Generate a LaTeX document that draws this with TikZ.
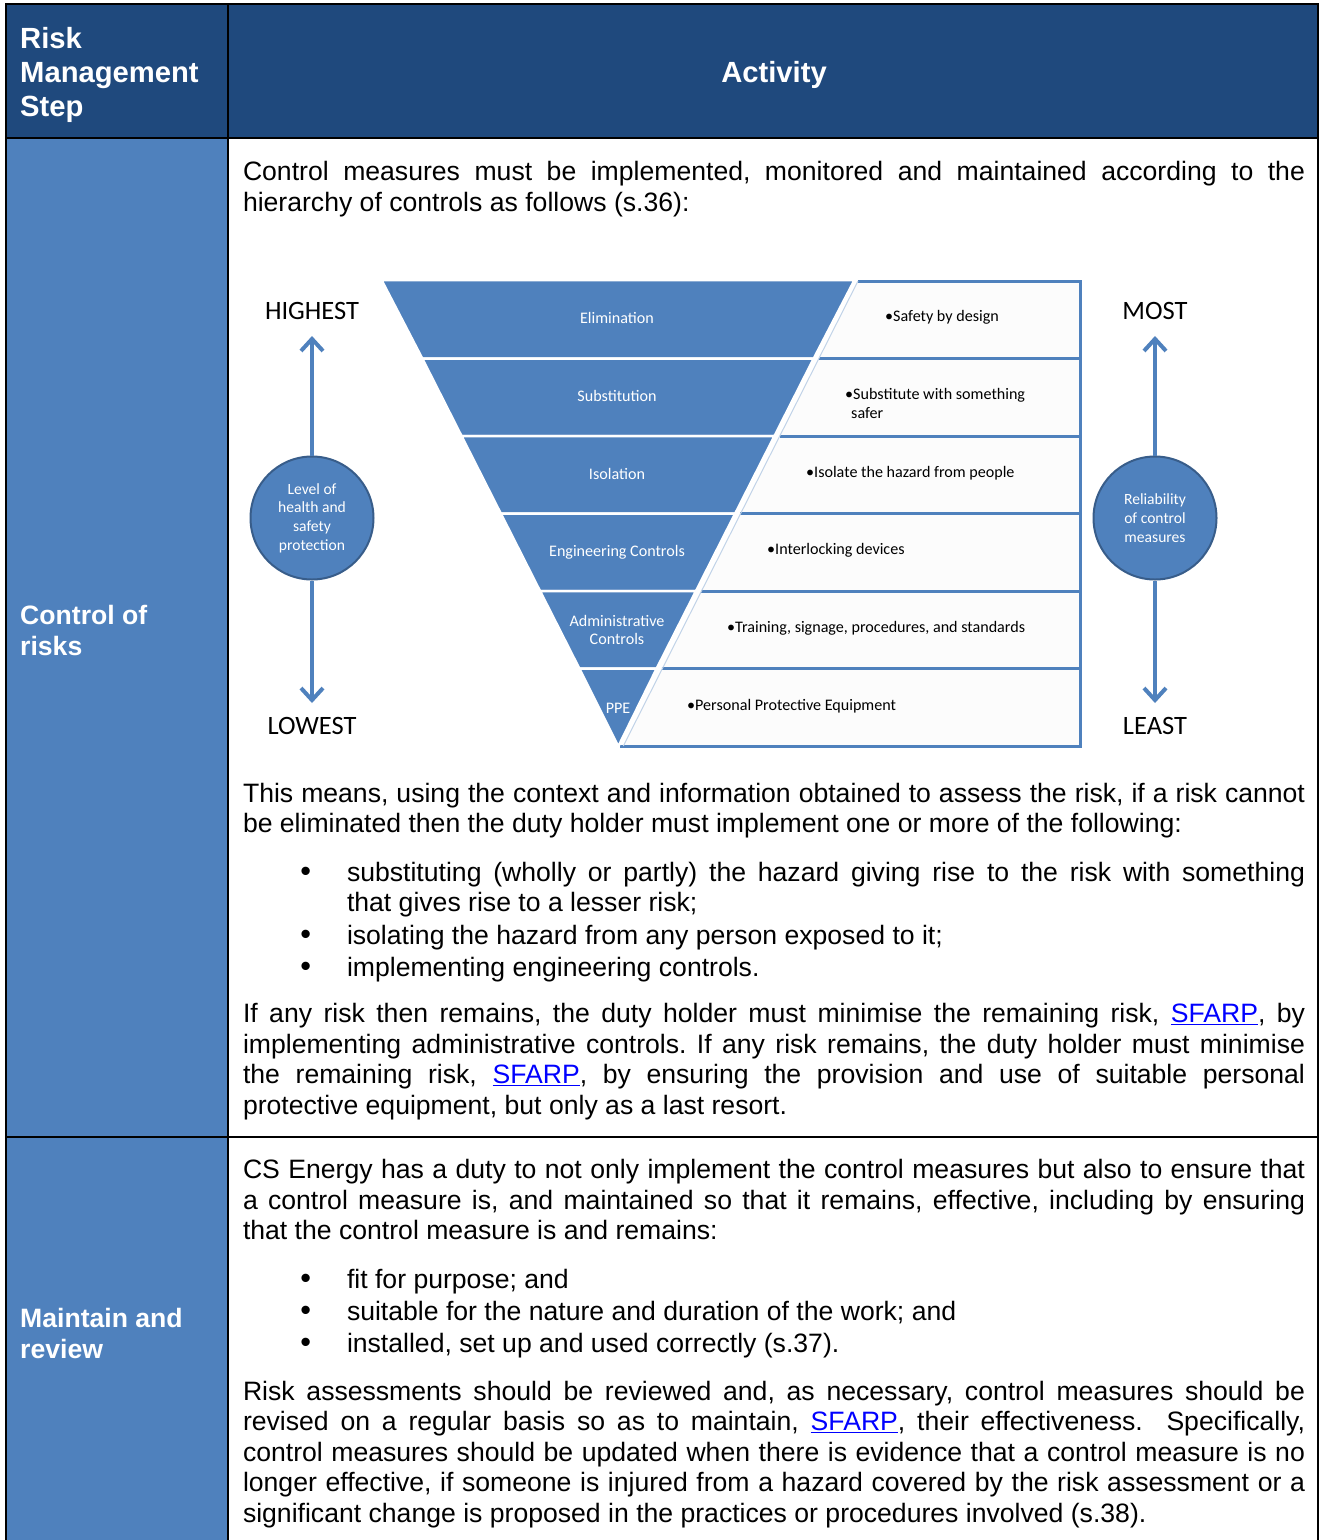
\documentclass[tikz,border=0pt]{standalone}
\usepackage{fontspec}
\setmainfont{Liberation Sans}
\newfontfamily\carl{Carlito}
\usetikzlibrary{arrows.meta}
\definecolor{hdr}{HTML}{1F497D}
\definecolor{mid}{HTML}{4F81BD}
\definecolor{edgeb}{HTML}{385D8A}
\definecolor{lnkc}{HTML}{0000FF}
\definecolor{boxf}{HTML}{FCFCFC}
\frenchspacing
\newcommand\bodyf{\fontsize{26.6}{30.5}\selectfont}
\newcommand\hdrf{\fontsize{29.2}{33.6}\selectfont\bfseries}
\newcommand\smf{\carl\fontsize{16.1}{18.7}\selectfont}
\newcommand\bigf{\carl\fontsize{26.5}{31}\selectfont}
\newcommand\lnk[1]{\textcolor{lnkc}{\underline{#1}}}
\newcommand\JL[2][1062pt]{\hbox to #1{#2}}
\newcommand\bul{\llap{\scalebox{1.15}{\textbullet}\hspace{36pt}}}
\begin{document}
\begin{tikzpicture}[x=1pt,y=-1pt,
  ln/.style={anchor=base west, inner sep=0pt, outer sep=0pt, font=\bodyf, text=black},
  hd/.style={anchor=base west, inner sep=0pt, font=\hdrf, text=white},
  lab/.style={anchor=base west, inner sep=0pt, font=\bodyf\bfseries, text=white},
  tbl/.style={draw=black, line width=2.5pt},
  band/.style={fill=mid, draw=white, line width=2.5pt, line join=miter},
  bandtxt/.style={font=\smf, text=white, align=center, inner sep=0pt},
  rbox/.style={fill=boxf, draw=none},
  rline/.style={draw=mid, line width=3pt},
  rslant/.style={draw=mid!35, line width=1pt},
  rtxt/.style={font=\smf, text=black, align=left, anchor=west, inner sep=0pt},
  ends/.style={font=\bigf, text=black, inner sep=0pt},
  circ/.style={circle, minimum size=123pt, inner sep=0pt, fill=mid, draw=edgeb, line width=2pt, text=white, font=\carl\fontsize{15.6}{18.7}\selectfont, align=center},
  arr/.style={draw=mid, line width=4pt, -{Straight Barb[length=12pt,width=22pt]}}
]
\useasboundingbox (0,0) rectangle (1325,1540);
\fill[white] (0,0) rectangle (1325,1540);
% ---------- table ----------
\fill[hdr] (6,4) rectangle (1318,138);
\fill[mid] (6,138) rectangle (228,1540);
\draw[tbl] (6,1540) -- (6,4) -- (1318,4) -- (1318,1540);
\draw[tbl] (6,138) -- (1318,138);
\draw[tbl] (6,1137) -- (1318,1137);
\draw[tbl] (228,4) -- (228,1540);
% header
\node[hd] (h1) at (20,48.5) {Risk};
\node[hd] (h2) at (20,82.5) {Management};
\node[hd] (h3) at (20,116.5) {Step};
\node[anchor=base, inner sep=0pt, font=\hdrf, text=white] (h4) at (774,82.5) {Activity};
% row labels
\node[lab] (l1) at (20,624.5) {Control of};
\node[lab] (l2) at (20,655) {risks};
\node[lab] (l3) at (20,1327.5) {Maintain and};
\node[lab] (l4) at (20,1358) {review};
% ---------- body text ----------
\node[ln] (p1a) at (243,180.5) {\JL{Control measures must be implemented, monitored and maintained according to the}};
\node[ln] (p1b) at (243,211) {hierarchy of controls as follows (s.36):};
\node[ln] (p2a) at (243,802) {\JL{This means, using the context and information obtained to assess the risk, if a risk cannot}};
\node[ln] (p2b) at (243,832.5) {be eliminated then the duty holder must implement one or more of the following:};
\node[ln] (b1a) at (347,881) {\bul\JL[958pt]{substituting (wholly or partly) the hazard giving rise to the risk with something}};
\node[ln] (b1b) at (347,911.5) {that gives rise to a lesser risk;};
\node[ln] (b2) at (347,944) {\bul isolating the hazard from any person exposed to it;};
\node[ln] (b3) at (347,976) {\bul implementing engineering controls.};
\node[ln] (p3a) at (243,1022.5) {\JL{If any risk then remains, the duty holder must minimise the remaining risk, \lnk{SFARP}, by}};
\node[ln] (p3b) at (243,1053) {\JL{implementing administrative controls. If any risk remains, the duty holder must minimise}};
\node[ln] (p3c) at (243,1083.5) {\JL{the remaining risk, \lnk{SFARP}, by ensuring the provision and use of suitable personal}};
\node[ln] (p3d) at (243,1114) {protective equipment, but only as a last resort.};
\node[ln] (p4a) at (243,1178.5) {\JL{CS Energy has a duty to not only implement the control measures but also to ensure that}};
\node[ln] (p4b) at (243,1209) {\JL{a control measure is, and maintained so that it remains, effective, including by ensuring}};
\node[ln] (p4c) at (243,1239.5) {that the control measure is and remains:};
\node[ln] (c1) at (347,1288) {\bul fit for purpose; and};
\node[ln] (c2) at (347,1320) {\bul suitable for the nature and duration of the work; and};
\node[ln] (c3) at (347,1352) {\bul installed, set up and used correctly (s.37).};
\node[ln] (p5a) at (243,1400) {\JL{Risk assessments should be reviewed and, as necessary, control measures should be}};
\node[ln] (p5b) at (243,1430.5) {\JL{revised on a regular basis so as to maintain, \lnk{SFARP}, their effectiveness.\ \ Specifically,}};
\node[ln] (p5c) at (243,1461) {\JL{control measures should be updated when there is evidence that a control measure is no}};
\node[ln] (p5d) at (243,1491.5) {\JL{longer effective, if someone is injured from a hazard covered by the risk assessment or a}};
\node[ln] (p5e) at (243,1522) {significant change is proposed in the practices or procedures involved (s.38).};
% ---------- diagram: right boxes ----------
\fill[rbox] (858,281) -- (1080,281) -- (1080,746) -- (623,746) -- cycle;
\draw[rline] (858,281) -- (1080,281) -- (1080,746) -- (620,746);
\draw[rline] (818.75,358.5) -- (1080,358.5);
\draw[rline] (779.5,436) -- (1080,436);
\draw[rline] (740.2,513.5) -- (1080,513.5);
\draw[rline] (701,591) -- (1080,591);
\draw[rline] (661.7,668.5) -- (1080,668.5);
\draw[rslant] (858,281) -- (623.3,746);
% ---------- diagram: inverted triangle bands ----------
\path[band] (381.5,280) -- (854.5,280) -- (813.75,358.5) -- (422.25,358.5) -- cycle;
\path[band] (422.25,358.5) -- (813.75,358.5) -- (774.5,436) -- (461.5,436) -- cycle;
\path[band] (461.5,436) -- (774.5,436) -- (735.24,513.5) -- (500.76,513.5) -- cycle;
\path[band] (500.76,513.5) -- (735.24,513.5) -- (696,591) -- (540,591) -- cycle;
\path[band] (540,591) -- (696,591) -- (656.7,668.5) -- (579.3,668.5) -- cycle;
\path[band] (579.3,668.5) -- (656.7,668.5) -- (618.3,746.5) -- cycle;
\node[bandtxt] (t1) at (617,318) {Elimination};
\node[bandtxt] (t2) at (617,396) {Substitution};
\node[bandtxt] (t3) at (617,474) {Isolation};
\node[bandtxt] (t4) at (617,552) {Engineering Controls};
\node[bandtxt] (t5) at (617,630) {Administrative\\Controls};
\node[bandtxt] (t6) at (618,708) {PPE};
% right texts
\node[rtxt] (r1) at (885,317) {\textbullet Safety by design};
\node[rtxt] (r2) at (845,403.5) {\textbullet Substitute with something\\\hspace*{6pt}safer};
\node[rtxt] (r3) at (806,473) {\textbullet Isolate the hazard from people};
\node[rtxt] (r4) at (767,550) {\textbullet Interlocking devices};
\node[rtxt] (r5) at (727,628) {\textbullet Training, signage, procedures, and standards};
\node[rtxt] (r6) at (687,706) {\textbullet Personal Protective Equipment};
% ---------- side scales ----------
\node[ends] (hi) at (312,311) {HIGHEST};
\node[ends] (lo) at (312,726) {LOWEST};
\node[ends] (mo) at (1155,311) {MOST};
\node[ends] (le) at (1155,726) {LEAST};
\coordinate (lt) at (312,336);
\coordinate (lb) at (312,703);
\coordinate (rt) at (1155,336);
\coordinate (rb) at (1155,703);
\node[circ] (lc) at (312,518) {Level of\\health and\\safety\\protection};
\node[circ] (rc) at (1155,518) {Reliability\\of control\\measures};
\draw[arr] (lc) -- (lt);
\draw[arr] (lc) -- (lb);
\draw[arr] (rc) -- (rt);
\draw[arr] (rc) -- (rb);
\end{tikzpicture}
\end{document}
